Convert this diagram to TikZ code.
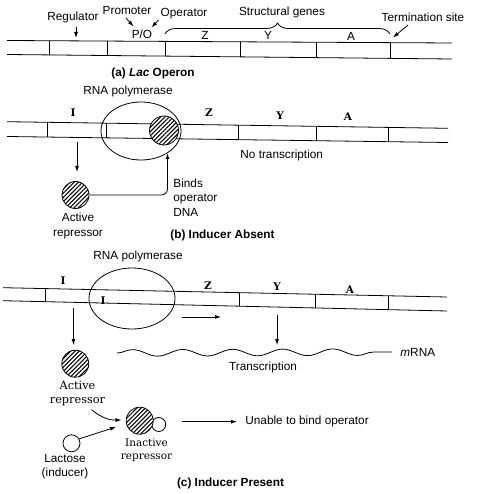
\documentclass[tikz,border=0pt]{standalone}
\usepackage{fontspec}
\setmainfont{Liberation Sans}
\newfontfamily\genefont{DejaVu Serif}
\usetikzlibrary{calc,arrows.meta,patterns.meta,shapes.geometric,decorations.pathreplacing,decorations.pathmorphing}
\begin{document}
\begin{tikzpicture}[x=1pt,y=-1pt,line width=0.8pt,
  txt/.style={inner sep=0pt,align=center,font=\fontsize{11.8}{14.5}\selectfont},
  captxt/.style={inner sep=0pt,font=\fontsize{11.8}{14}\selectfont\bfseries},
  gene/.style={inner sep=0pt,align=center,font=\genefont\fontsize{10.5}{13.5}\selectfont},
  genebf/.style={gene,font=\genefont\fontsize{10.5}{14}\selectfont\bfseries},
  arr/.style={-{Latex[length=6pt,width=4pt]}},
  rep/.style={circle,draw,inner sep=0pt,minimum size=27pt,preaction={fill=white},
    pattern={Lines[angle=45,distance=3pt,line width=1pt]}},
  lac/.style={circle,draw,fill=white,inner sep=0pt},
  pol/.style={ellipse,draw,inner sep=0pt}]
\useasboundingbox (0,0) rectangle (486,494);
% (a) lac operon
\coordinate (aTL) at (7,40.5);
\coordinate (aTR) at (452,43);
\coordinate (aBL) at (7,54.5);
\coordinate (aBR) at (452,59);
\draw (aTL) -- (aTR) (aBL) -- (aBR);
\foreach \x [evaluate=\x as \t using (\x-7)/445] in {49,107,165,240,316,390}
  \draw ($(aTL)!\t!(aTR)$) -- ($(aBL)!\t!(aBR)$);
\node[txt] (reg) at (73,17) {Regulator};
\node[txt] (pro) at (127,11) {Promoter};
\node[txt] (ope) at (184,14) {Operator};
\node[txt] (str) at (282,12) {Structural genes};
\node[txt] (ter) at (423,17) {Termination site};
\node[txt] (po) at (142,34) {P/O};
\node[txt] (zA) at (205,35) {Z};
\node[txt] (yA) at (268,35) {Y};
\node[txt] (aA) at (351,36) {A};
\coordinate (regS) at (76,27);
\coordinate (regE) at (76,38);
\coordinate (proS) at (126,18);
\coordinate (proE) at (133.5,26.5);
\coordinate (opeS) at (158.5,20);
\coordinate (opeE) at (151.5,27.5);
\coordinate (terS) at (408,25);
\coordinate (terE) at (393,37.5);
\draw[arr] (regS) -- (regE);
\draw[arr] (proS) -- (proE);
\draw[arr] (opeS) -- (opeE);
\draw[arr] (terS) -- (terE);
\draw[decorate,decoration={brace,amplitude=11pt}] (165,34) -- (390,34);
\node[captxt] (capA) at (153,73) {(a) \textit{Lac} Operon};
% (b) inducer absent
\coordinate (bTL) at (7,121.7);
\coordinate (bTR) at (448,128.3);
\coordinate (bBL) at (7,136.5);
\coordinate (bBR) at (448,142.5);
\draw (bTL) -- (bTR) (bBL) -- (bBR);
\foreach \x [evaluate=\x as \t using (\x-7)/441] in {47,106,238,316,388}
  \draw ($(bTL)!\t!(bTR)$) -- ($(bBL)!\t!(bBR)$);
\node[txt] (rnaB) at (128,91) {RNA polymerase};
\node[pol,minimum width=80pt,minimum height=58pt] (polB) at (141,131) {};
\node[rep,minimum size=29pt] (opB) at (164,130.5) {};
\node[genebf] (iB) at (73,113) {I};
\node[genebf] (zB) at (209,113) {Z};
\node[genebf] (yB) at (280,116) {Y};
\node[genebf] (aB) at (348,117) {A};
\node[txt,anchor=west] (noB) at (240,155) {No transcription};
\node[rep] (repB) at (75.5,195) {};
\coordinate (iBS) at (77,142);
\coordinate (iBE) at (77,172);
\draw[arr] (iBS) -- (iBE);
\draw[arr,rounded corners=6pt] (repB.east) -| (polB.-40);
\node[txt,anchor=west,align=left] (bind) at (173,197.5) {Binds\\operator\\DNA};
\node[txt] (actB) at (78,226) {Active\\repressor};
\node[captxt] (capB) at (222.5,235) {(b) Inducer Absent};
% (c) inducer present
\coordinate (cTL) at (3,287.7);
\coordinate (cTR) at (447,297);
\coordinate (cBL) at (3,300.7);
\coordinate (cBR) at (447,311);
\draw (cTL) -- (cTR) (cBL) -- (cBR);
\foreach \x [evaluate=\x as \t using (\x-3)/444] in {45,239,315,388}
  \draw ($(cTL)!\t!(cTR)$) -- ($(cBL)!\t!(cBR)$);
\node[txt] (rnaC) at (138,256) {RNA polymerase};
\node[pol,minimum width=86pt,minimum height=61pt] (polC) at (132,298.5) {};
\node[genebf] (iC) at (63,281) {I};
\node[genebf] (iC2) at (103,301) {I};
\node[genebf] (zC) at (208,286) {Z};
\node[genebf] (yC) at (277,287) {Y};
\node[genebf] (aC) at (350,290) {A};
\coordinate (iCS) at (73.5,308);
\coordinate (iCE) at (73.5,345);
\draw[arr] (iCS) -- (iCE);
\coordinate (txS) at (182,317);
\coordinate (txE) at (221,317);
\draw[arr] (txS) -- (txE);
\coordinate (dnS) at (277,315);
\coordinate (dnE) at (277,345);
\draw[arr] (dnS) -- (dnE);
\coordinate (mS) at (117,353);
\coordinate (mE) at (392,352);
\draw[decorate,decoration={snake,amplitude=3.3pt,segment length=50pt}] (mS) -- (mE);
\node[txt,anchor=west] (mrna) at (400,352) {\textit{m}RNA};
\node[txt] (tra) at (263,367) {Transcription};
\node[rep] (repC) at (75.3,363.7) {};
\node[gene,font=\genefont\fontsize{11.3}{14}\selectfont] (actC) at (77.5,394) {Active\\repressor};
\node[lac,minimum size=14pt] (indC) at (158.7,424.5) {};
\node[rep] (inaC) at (139.7,420.7) {};
\node[lac,minimum size=17pt] (lacC) at (71.5,443.3) {};
\node[gene] (inaT) at (146.5,450) {Inactive\\repressor};
\node[txt] (lacT) at (65,466.7) {Lactose\\(inducer)};
\coordinate (actE) at (121.5,420);
\coordinate (lacE) at (116,427);
\draw[arr] (actC.south east) ++(-14,3) to[bend right=20] (actE);
\draw[arr] (lacC.30) -- (lacE);
\coordinate (unS) at (182,421.7);
\coordinate (unE) at (237,421.7);
\draw[arr] (unS) -- (unE);
\node[txt,anchor=west] (una) at (245,421.7) {Unable to bind operator};
\node[captxt] (capC) at (230.5,483) {(c) Inducer Present};
\end{tikzpicture}
\end{document}
